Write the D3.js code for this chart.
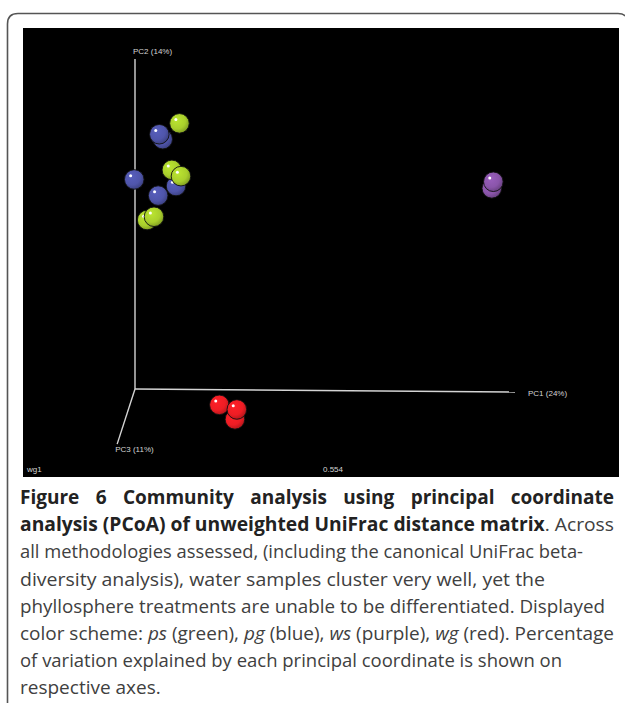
<!DOCTYPE html>
<html>
<head>
<meta charset="utf-8">
<script src="https://cdn.jsdelivr.net/npm/d3@7"></script>
<style>
  body { margin: 0; background: #fff; }
</style>
</head>
<body>
<svg id="chart"></svg>
<script>
// canvas
var w = 625;
var h = 703;

// sample groups and colours (ps green, pg blue, ws purple, wg red)
var groups = ["ps", "pg", "ws", "wg"];
var groupColors = ["#a9cf2c", "#4f55aa", "#8a55aa", "#ee1d24"];

// projected positions, % of the drawn axis length
var psPC1 = [11.7, 9.7, 12.1, 3.2, 5.0];
var psPC2 = [80.5, 66.4, 64.5, 51.2, 52.2];
var psPC3 = [2, 1, 3, 1, 2];

var pgPC1 = [6.4, 7.3, 10.8, -0.2, 6.1];
var pgPC2 = [77.2, 75.7, 61.5, 63.5, 58.6];
var pgPC3 = [3, 1, 0, 2, 2];

var wsPC1 = [94.3, 93.9];
var wsPC2 = [62.8, 60.8];
var wsPC3 = [2, 1];

var wgPC1 = [22.2, 26.8, 26.3];
var wgPC2 = [-4.8, -6.2, -9.2];
var wgPC3 = [1, 2, 0];

// axis ends in the same units (PC1, PC2, PC3)
var axisNames = ["PC1 (24%)", "PC2 (14%)", "PC3 (11%)"];
var axisEndX = [100, 0, -4.7];
var axisEndY = [-0.9, 100, -16.7];

// footer texts of the plot panel
var sampleLabel = "wg1";
var scaleLabel = "0.554";

// caption lines
var captionLines = [
    [{ t: "Figure 6 Community analysis using principal coordinate", b: true }],
    [{ t: "analysis (PCoA) of unweighted UniFrac distance matrix", b: true }, { t: ". Across" }],
    [{ t: "all methodologies assessed, (including the canonical UniFrac beta-" }],
    [{ t: "diversity analysis), water samples cluster very well, yet the" }],
    [{ t: "phyllosphere treatments are unable to be differentiated. Displayed" }],
    [{ t: "color scheme: " }, { t: "ps", i: true }, { t: " (green), " }, { t: "pg", i: true },
     { t: " (blue), " }, { t: "ws", i: true }, { t: " (purple), " }, { t: "wg", i: true },
     { t: " (red). Percentage" }],
    [{ t: "of variation explained by each principal coordinate is shown on" }],
    [{ t: "respective axes." }]
];
// right ends of the caption lines (last line left ragged)
var captionEnds = [614, 614, 583, 545, 605, 614, 562, null];

// build point list
var pcs = [[psPC1, psPC2, psPC3], [pgPC1, pgPC2, pgPC3], [wsPC1, wsPC2, wsPC3], [wgPC1, wgPC2, wgPC3]];
var points = [];
groups.forEach(function (g, gi) {
    pcs[gi][0].forEach(function (v, i) {
        points.push({ group: g, pc1: v, pc2: pcs[gi][1][i], pc3: pcs[gi][2][i] });
    });
});
// back to front
points.sort(function (a, b) { return a.pc3 - b.pc3; });

var color = d3.scaleOrdinal().domain(groups).range(groupColors);

// plot panel
var panel = { x: 23, y: 28, w: 596, h: 449 };

var xScale = d3.scaleLinear().domain([0, 100]).range([135, 515]);
var yScale = d3.scaleLinear().domain([0, 100]).range([389, 59]);

var svg = d3.select("#chart")
    .attr("width", w)
    .attr("height", h);

// frame round figure
svg.append("path")
    .attr("d", "M7.5,703 V24 Q7.5,13.5 18,13.5 H618 Q623,13.5 625,16")
    .attr("fill", "none")
    .attr("stroke", "#555")
    .attr("stroke-width", 1.6);

svg.append("rect")
    .attr("x", panel.x)
    .attr("y", panel.y)
    .attr("width", panel.w)
    .attr("height", panel.h)
    .attr("fill", "#000");

// sphere gradients
var defs = svg.append("defs");
groups.forEach(function (g) {
    var c = d3.color(color(g));
    var grad = defs.append("radialGradient")
        .attr("id", "grad-" + g)
        .attr("cx", "40%").attr("cy", "38%").attr("r", "65%")
        .attr("fx", "35%").attr("fy", "32%");
    grad.append("stop").attr("offset", "0%").attr("stop-color", c.brighter(0.3));
    grad.append("stop").attr("offset", "65%").attr("stop-color", c);
    grad.append("stop").attr("offset", "100%").attr("stop-color", c.darker(0.8));
});

// axes
var axisColor = "#d4d4d4";
axisNames.forEach(function (name, i) {
    svg.append("line")
        .attr("x1", xScale(0)).attr("y1", yScale(0))
        .attr("x2", xScale(axisEndX[i])).attr("y2", yScale(axisEndY[i]))
        .attr("stroke", axisColor)
        .attr("stroke-width", 1.4);
});

var labelFont = "'Liberation Sans', Arial, sans-serif";
var axisLabelPos = [[13, 1], [-2, -8], [-2, 5.5]];
axisNames.forEach(function (name, i) {
    svg.append("text")
        .attr("x", xScale(axisEndX[i]) + axisLabelPos[i][0])
        .attr("y", yScale(axisEndY[i]) + axisLabelPos[i][1])
        .attr("dy", "0.35em")
        .attr("font-family", labelFont)
        .attr("font-size", "8px")
        .attr("fill", axisColor)
        .text(name);
});

svg.append("text")
    .attr("x", 27).attr("y", 472)
    .attr("font-family", labelFont)
    .attr("font-size", "8px")
    .attr("fill", axisColor)
    .text(sampleLabel);

svg.append("text")
    .attr("x", 323).attr("y", 472)
    .attr("font-family", labelFont)
    .attr("font-size", "8px")
    .attr("fill", axisColor)
    .text(scaleLabel);

// spheres
var r = 9.8;
var dots = svg.append("g").selectAll("g")
    .data(points)
    .enter().append("g")
    .attr("transform", function (d) { return "translate(" + xScale(d.pc1) + "," + yScale(d.pc2) + ")"; });

dots.append("circle")
    .attr("r", r)
    .attr("fill", function (d) { return "url(#grad-" + d.group + ")"; })
    .attr("stroke", "#111")
    .attr("stroke-width", 0.9);

dots.append("circle")
    .attr("cx", -3.6)
    .attr("cy", -3.8)
    .attr("r", 1.5)
    .attr("fill", "#fff");

// caption
var capFont = "'Open Sans', 'Noto Sans', sans-serif";
var cap = svg.append("g");
captionLines.forEach(function (parts, i) {
    var t = cap.append("text")
        .attr("x", 20)
        .attr("y", 504 + i * 27.2)
        .attr("font-family", capFont)
        .attr("font-size", "19px")
        .attr("fill", "#404040");
    parts.forEach(function (p) {
        t.append("tspan")
            .attr("font-weight", p.b ? "bold" : null)
            .attr("font-style", p.i ? "italic" : null)
            .attr("fill", p.b ? "#222" : null)
            .text(p.t);
    });
    if (captionEnds[i] == null) return;
    var natural = t.node().getComputedTextLength();
    var target = captionEnds[i] - 20;
    if (i === 0 && natural < target) {
        // justified first line: spread the words
        var spaces = parts[0].t.split(" ").length - 1;
        t.attr("word-spacing", (target - natural) / spaces);
    } else {
        t.attr("textLength", target).attr("lengthAdjust", "spacingAndGlyphs");
    }
});
</script>
</body>
</html>
